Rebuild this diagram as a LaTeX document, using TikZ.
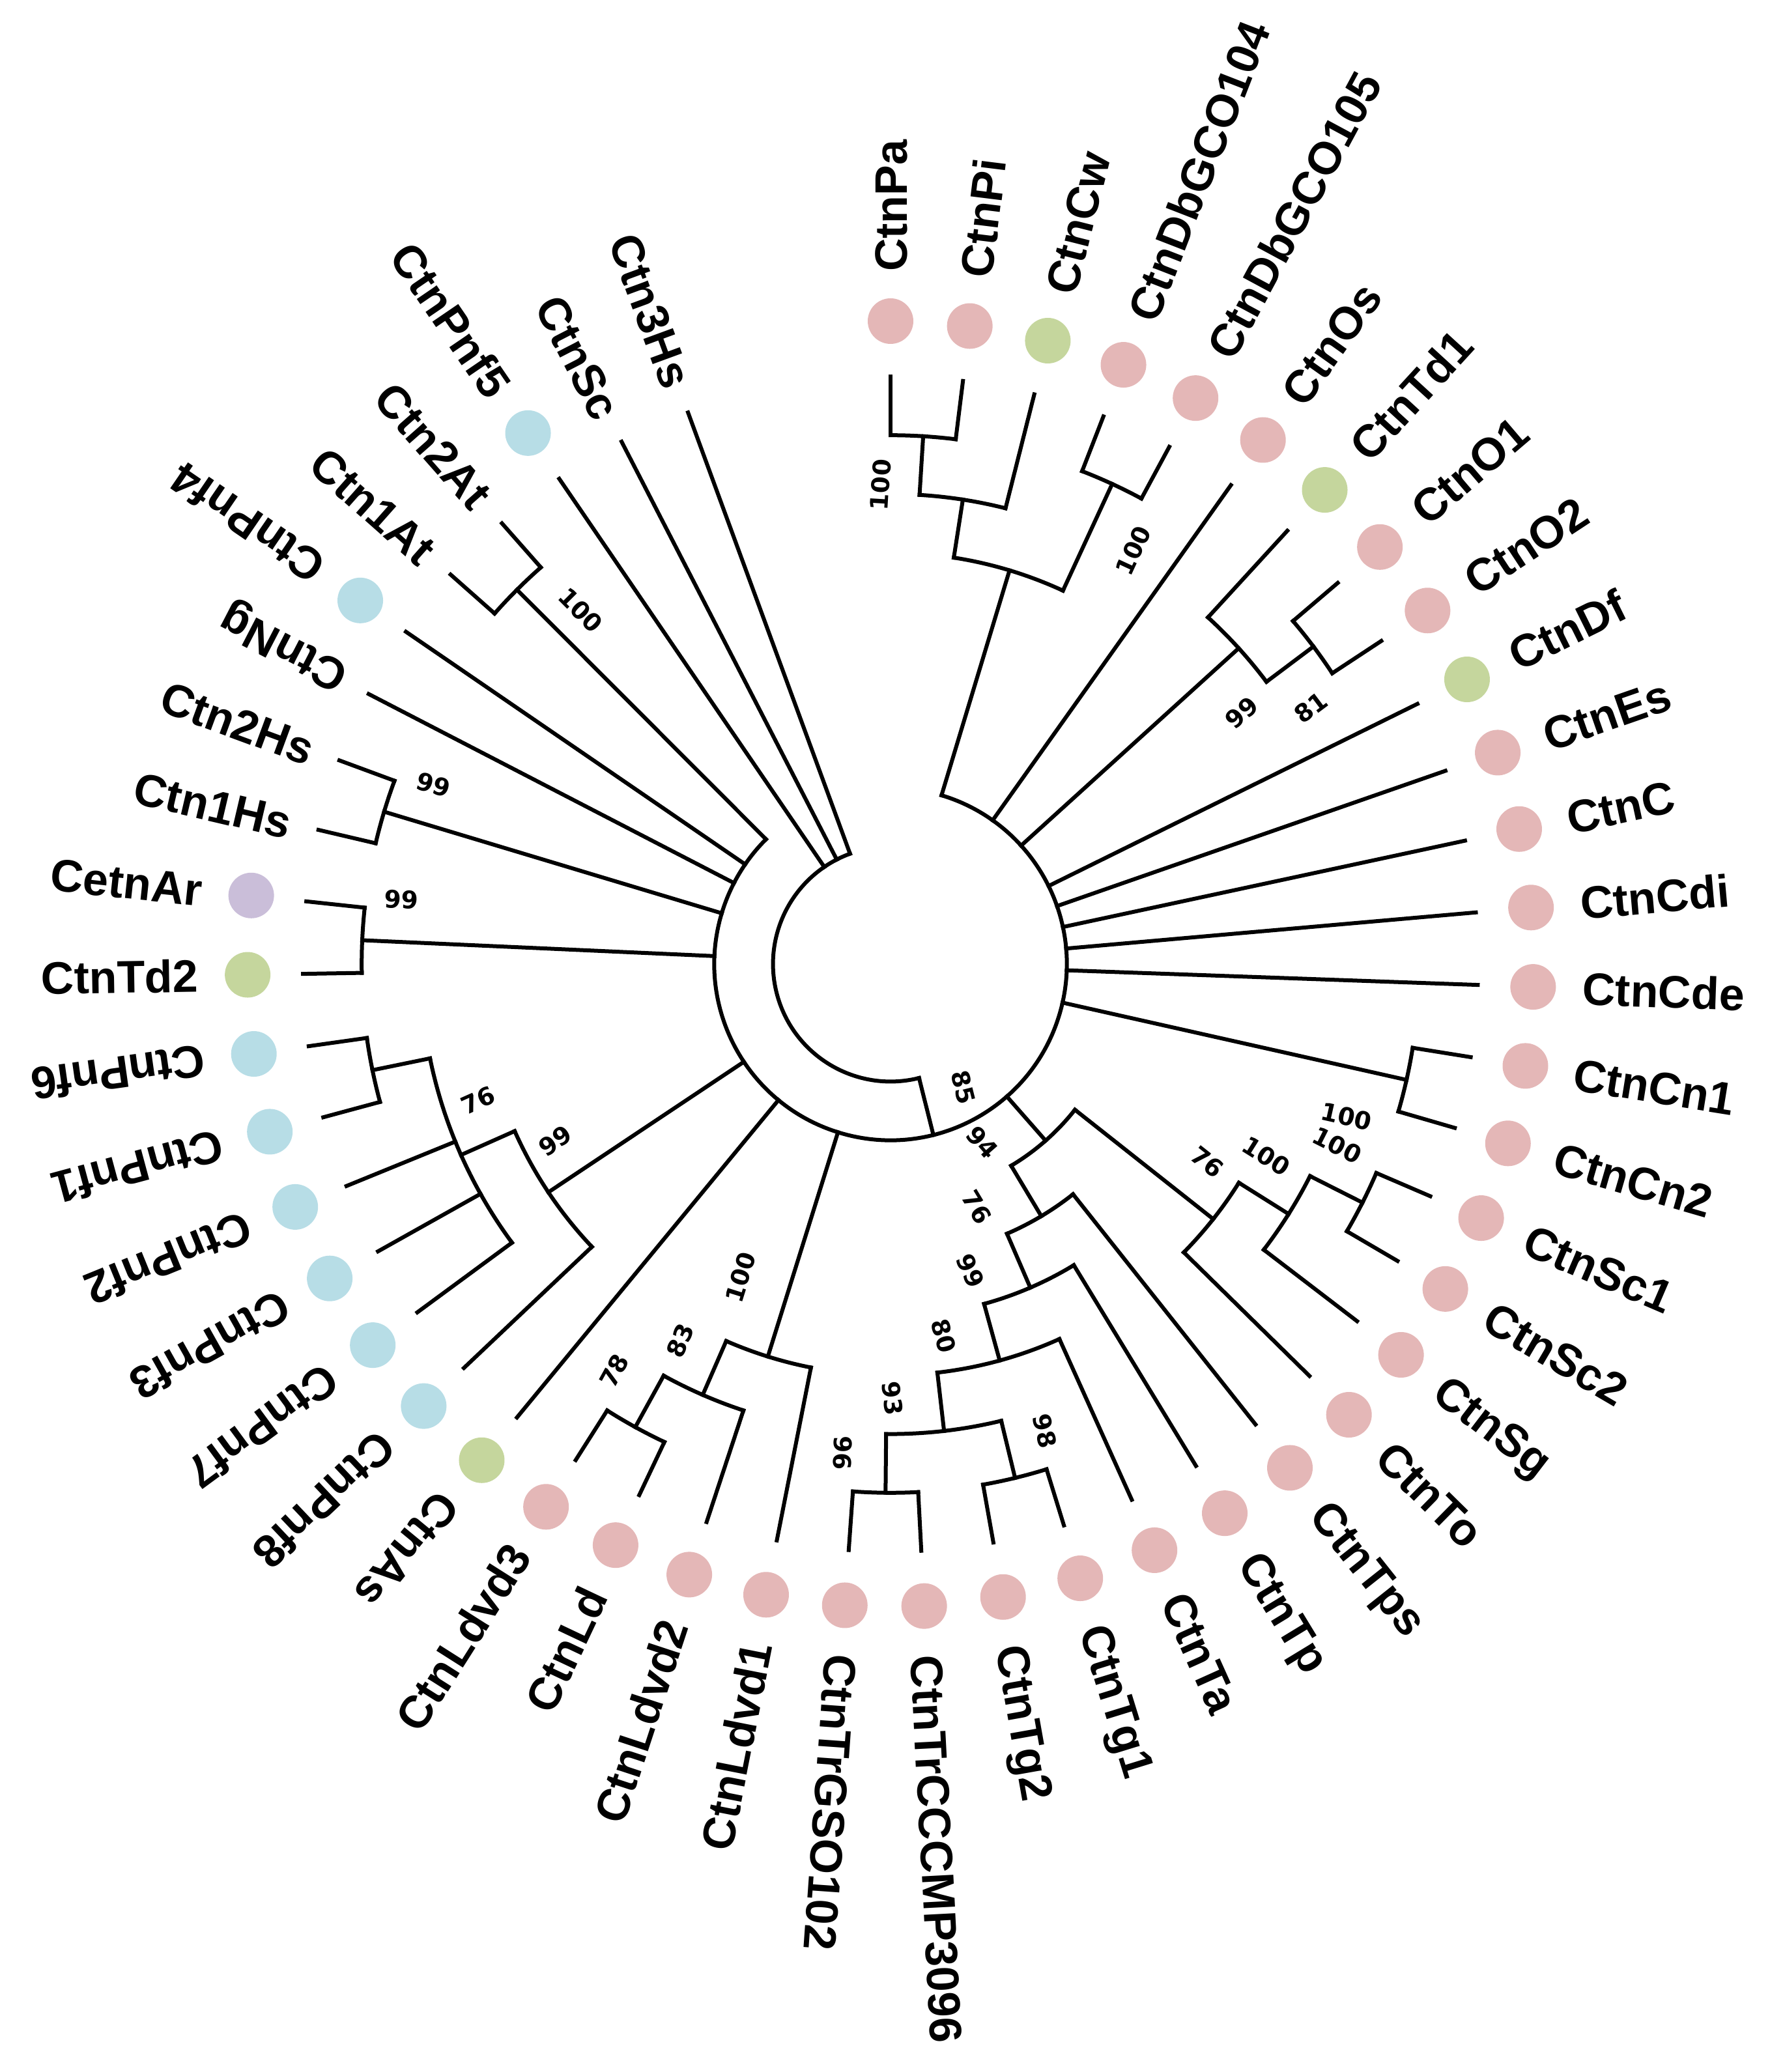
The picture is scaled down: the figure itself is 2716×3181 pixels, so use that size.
\documentclass[tikz,border=0pt]{standalone}
\usepackage{fontspec}
\setmainfont{Liberation Sans}
\newfontfamily\bootfont{DejaVu Sans}

\definecolor{dotpink}{RGB}{228,183,183}
\definecolor{dotblue}{RGB}{183,221,230}
\definecolor{dotgreen}{RGB}{197,214,157}
\definecolor{dotpurple}{RGB}{202,190,217}

\begin{document}
\begin{tikzpicture}[x=0.2pt, y=0.2pt,
    branch/.style={line width=1.2pt, line cap=rect},
    leaf/.style={font=\fontsize{14}{14}\selectfont\bfseries, inner sep=0pt, text height=10pt, text depth=0pt},
    boot/.style={font=\bootfont\fontsize{7.5}{7.5}\selectfont\bfseries, inner sep=0pt}]

\useasboundingbox (-1367,-1701) rectangle (1349,1480);

% terminal branches (leaf i sits at 90-7.08*i degrees, tips at level 10)
\foreach \i/\lv in {0/9,1/9,2/8,3/9,4/9,5/3,6/8,7/9,8/9,9/3,10/3,11/3,12/3,13/3,14/9,15/9,16/9,17/9,18/8,19/7,20/5,21/6,22/7,23/9,24/9,25/9,26/9,27/7,28/8,29/9,30/9,31/3,32/7,33/8,34/8,35/8,36/9,37/9,38/9,39/9,40/9,41/9,42/3,43/3,44/9,45/9,46/2,47/2,48/2}
    \draw[branch] ({90-7.08*\i}:{90.2*\lv}) -- ({90-7.08*\i}:902);

% stems of inner nodes: angle / own level / parent level
\foreach \a/\p/\q in {86.46/9/8, 81.15/8/7, 65.22/9/7, 73.185/7/3, 36.9/9/8, 42.21/8/3,
    -12.66/9/3, -26.82/9/8, -32.13/8/7, -38.325/7/4, -76.38/9/8, -90.54/9/8, -83.46/8/7,
    -74.61/7/6, -66.645/6/5, -59.1225/5/4, -48.72/4/3, -118.86/9/8, -113.55/8/7,
    -107.355/7/3, -168.42/9/8, -156.03/8/7, -146.295/7/3, -182.58/9/3, -196.74/9/3,
    -225.06/9/3, -75.94/3/2}
    \draw[branch] (\a:{90.2*\p}) -- (\a:{90.2*\q});

% arcs of inner nodes: level / first child / last child
\foreach \lv/\a/\b in {9/90/82.92, 8/86.46/75.84, 9/68.76/61.68, 7/81.15/65.22,
    9/40.44/33.36, 8/47.52/36.9, 9/-9.12/-16.2, 9/-23.28/-30.36, 8/-26.82/-37.44,
    7/-32.13/-44.52, 9/-72.84/-79.92, 9/-87/-94.08, 8/-76.38/-90.54, 7/-65.76/-83.46,
    6/-58.68/-74.61, 5/-51.6/-66.645, 4/-38.325/-59.1225, 9/-115.32/-122.4,
    8/-108.24/-118.86, 7/-101.16/-113.55, 9/-164.88/-171.96, 8/-143.64/-168.42,
    7/-136.56/-156.03, 9/-179.04/-186.12, 9/-193.2/-200.28, 9/-221.52/-228.6,
    3/73.185/-225.06, 2/-75.94/-249.84}
    \draw[branch] (\a:{90.2*\lv}) arc[start angle=\a, end angle=\b, radius={90.2*\lv}];

% coloured dots
\foreach \i/\c in {0/dotpink,1/dotpink,2/dotgreen,3/dotpink,4/dotpink,5/dotpink,6/dotgreen,
    7/dotpink,8/dotpink,9/dotgreen,10/dotpink,11/dotpink,12/dotpink,13/dotpink,14/dotpink,
    15/dotpink,16/dotpink,17/dotpink,18/dotpink,19/dotpink,20/dotpink,21/dotpink,22/dotpink,
    23/dotpink,24/dotpink,25/dotpink,26/dotpink,27/dotpink,28/dotpink,29/dotpink,30/dotpink,
    31/dotgreen,32/dotblue,33/dotblue,34/dotblue,35/dotblue,36/dotblue,37/dotblue,
    38/dotgreen,39/dotpurple,43/dotblue,46/dotblue}
    \fill[\c] ({90-7.08*\i}:987) circle[radius=35];

% names reading outwards (index / name / radius)
\foreach \i/\t/\r in {0/CtnPa/1062,1/CtnPi/1062,2/CtnCw/1062,3/CtnDbGCO104/1062,
    4/CtnDbGCO105/1062,5/CtnOs/1062,6/CtnTd1/1062,7/CtnO1/1062,8/CtnO2/1062,9/CtnDf/1062,
    10/CtnEs/1062,11/CtnC/1062,12/CtnCdi/1062,13/CtnCde/1062,14/CtnCn1/1062,15/CtnCn2/1062,
    16/CtnSc1/1062,17/CtnSc2/1062,18/CtnSg/1062,19/CtnTo/1062,20/CtnTps/1062,21/CtnTp/1062,
    22/CtnTa/1062,23/CtnTg1/1062,24/CtnTg2/1062,25/CtnTrCCCMP3096/1062,26/CtnTrGSO102/1062,
    31/CtnAs/1062,32/CtnPnf8/1062,33/CtnPnf7/1062,34/CtnPnf3/1062,35/CtnPnf2/1062,
    36/CtnPnf1/1062,37/CtnPnf6/1062,42/CtnNg/945,43/CtnPnf4/1062}
    \node[leaf, anchor=west, rotate={90-7.08*\i}] (l\i) at ({90-7.08*\i}:\r) {\t};

% names reading inwards
\foreach \i/\t/\r in {27/CtnLdvd1/1062,28/CtnLdvd2/1062,29/CtnLd/1062,30/CtnLdvd3/1062,
    38/CtnTd2/1062,39/CetnAr/1062,40/Ctn1Hs/945,41/Ctn2Hs/945,44/Ctn1At/945,45/Ctn2At/945,
    46/CtnPnf5/1062,47/CtnSc/945,48/Ctn3Hs/945}
    \node[leaf, anchor=east, rotate={-90-7.08*\i}] (l\i) at ({90-7.08*\i}:\r) {\t};

% bootstrap values: angle / radius / rotation / value
\foreach \a/\r/\rot/\v [count=\k] in {91.2/736/86.5/100, 59.6/736/65.2/100, 35.6/663/42.2/99,
    31.4/756/36.9/81, -18.5/738/-12.7/100, -22.1/740/-26.8/100, -27.1/648/-32.1/100,
    -32/573/-38.3/76, -62.8/308/-48.7/94, -59.4/220/-75.9/85, -70.5/396/-59.1/76,
    -75.4/487/-66.6/99, -81.9/577/-74.6/80, -89.7/667/-83.5/93, -95.6/754/-90.5/96,
    -71.7/755/-76.4/98, 244.4/533/72.6/100, 240.8/662/66.4/83, 235.8/755/61.1/78,
    198.3/667/24/76, 207.8/582/33.7/99, 158.6/754/-16.7/99, 172.5/757/-2.6/99,
    131.2/722/-45.1/100}
    \node[boot, rotate=\rot] (b\k) at (\a:\r) {\v};
\end{tikzpicture}
\end{document}
